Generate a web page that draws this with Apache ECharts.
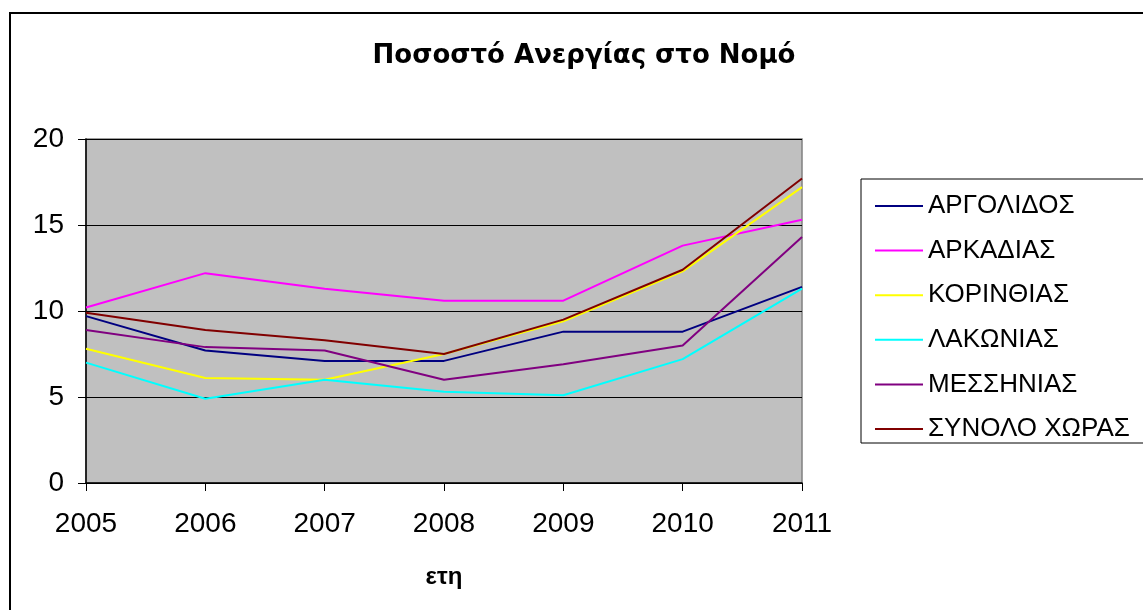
<!DOCTYPE html>
<html>
<head>
<meta charset="utf-8">
<title>Ποσοστό Ανεργίας στο Νομό</title>
<script src="https://cdn.jsdelivr.net/npm/echarts@6/dist/echarts.min.js"></script>
<style>
  html, body { margin: 0; padding: 0; background: #fff; }
  #main { width: 1143px; height: 610px; }
</style>
</head>
<body>
<div id="main"></div>
<script>
// έτη (άξονας x)
var years = ['2005', '2006', '2007', '2008', '2009', '2010', '2011'];

// ποσοστά ανεργίας ανά νομό
var argolidos  = [9.7, 7.7, 7.1, 7.1, 8.8, 8.8, 11.4];
var arkadias   = [10.2, 12.2, 11.3, 10.6, 10.6, 13.8, 15.3];
var korinthias = [7.8, 6.1, 6.0, 7.5, 9.4, 12.3, 17.2];
var lakonias   = [7.0, 4.9, 6.0, 5.3, 5.1, 7.2, 11.3];
var messinias  = [8.9, 7.9, 7.7, 6.0, 6.9, 8.0, 14.3];
var synolo     = [9.9, 8.9, 8.3, 7.5, 9.5, 12.4, 17.7];

var names = ['ΑΡΓΟΛΙΔΟΣ', 'ΑΡΚΑΔΙΑΣ', 'ΚΟΡΙΝΘΙΑΣ', 'ΛΑΚΩΝΙΑΣ', 'ΜΕΣΣΗΝΙΑΣ', 'ΣΥΝΟΛΟ ΧΩΡΑΣ'];
var colors = ['#000080', '#ff00ff', '#ffff00', '#00ffff', '#800080', '#800000'];
var values = [argolidos, arkadias, korinthias, lakonias, messinias, synolo];

var font = "'Liberation Sans', Arial, sans-serif";

var series = [];
for (var i = 0; i < names.length; i++) {
    series.push({
        name: names[i],
        type: 'line',
        data: values[i],
        symbol: 'none',
        animation: false,
        lineStyle: { color: colors[i], width: 2 },
        itemStyle: { color: colors[i] }
    });
}

var myChart = echarts.init(document.getElementById('main'));
var option = {
    backgroundColor: '#fff',
    color: colors,
    textStyle: { fontFamily: font },
    title: {
        text: 'Ποσοστό Ανεργίας στο Νομό',
        left: 579,
        top: 38,
        textAlign: 'center',
        textStyle: { fontFamily: "'DejaVu Sans', Verdana, sans-serif", fontSize: 26, fontWeight: 'bold', color: '#000' }
    },
    // πλαίσια: εξωτερικό και υπόμνημα
    graphic: [
        {
            type: 'rect', silent: true, z: -1,
            shape: { x: 10, y: 13, width: 1200, height: 700 },
            style: { fill: 'none', stroke: '#000', lineWidth: 2 }
        },
        {
            type: 'rect', silent: true,
            shape: { x: 861, y: 179, width: 320, height: 264 },
            style: { fill: '#fff', stroke: '#000', lineWidth: 1 }
        }
    ],
    legend: {
        orient: 'vertical',
        left: 870,
        top: 188,
        icon: 'rect',
        itemWidth: 48,
        itemHeight: 2,
        itemGap: 18.6,
        z: 10,
        textStyle: { fontFamily: font, fontSize: 26, lineHeight: 26, color: '#000' },
        data: names
    },
    grid: {
        left: 86,
        top: 139,
        width: 716,
        height: 344,
        show: true,
        backgroundColor: '#c0c0c0',
        borderColor: '#808080',
        borderWidth: 1.5
    },
    xAxis: {
        type: 'category',
        data: years,
        boundaryGap: false,
        name: 'ετη',
        nameLocation: 'middle',
        nameGap: 82,
        nameTextStyle: { fontFamily: font, fontSize: 24, fontWeight: 'bold', color: '#000', verticalAlign: 'top' },
        axisLine: { lineStyle: { color: '#000', width: 1.5 } },
        axisTick: { show: true, length: 8, lineStyle: { color: '#000' } },
        axisLabel: { fontFamily: font, fontSize: 28, color: '#000', margin: 27 },
        splitLine: { show: false }
    },
    yAxis: {
        type: 'value',
        min: 0,
        max: 20,
        interval: 5,
        axisLine: { show: true, lineStyle: { color: '#000', width: 1.5 } },
        axisTick: { show: true, length: 8, lineStyle: { color: '#000' } },
        axisLabel: { fontFamily: font, fontSize: 28, color: '#000', margin: 22 },
        splitLine: { show: true, lineStyle: { color: '#000', width: 1 } }
    },
    series: series
};
myChart.setOption(option);
</script>
</body>
</html>
